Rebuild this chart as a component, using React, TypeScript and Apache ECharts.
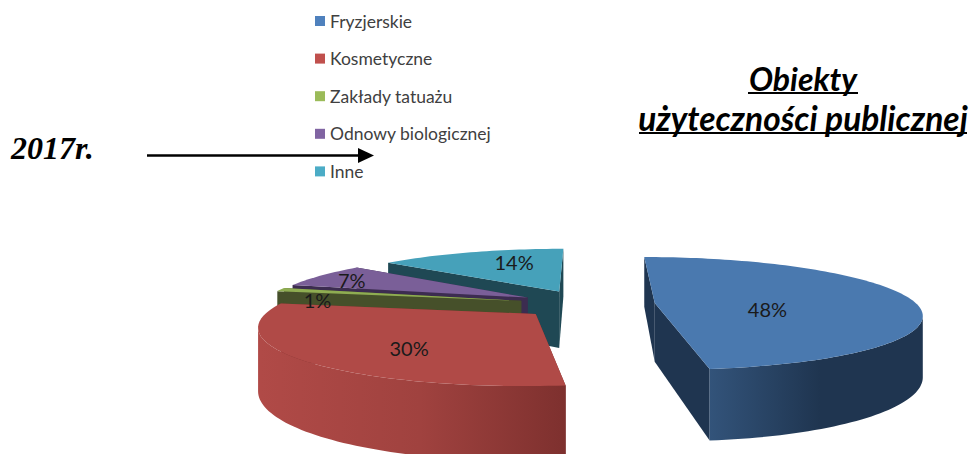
import React, { useEffect, useRef } from "react";
import * as echarts from "echarts";

const categories = ["Fryzjerskie", "Kosmetyczne", "Zakłady tatuażu", "Odnowy biologicznej", "Inne"];
const values = [48, 30, 1, 7, 14];

const legendColors = ["#4f81bd", "#c0504d", "#9bbb59", "#8064a2", "#4bacc6"];
const topColors = ["#4a79af", "#b04a47", "#8fad52", "#7a5f98", "#46a1ba"];
const faceColors = ["#1f3550", "#7d302e", "#46502a", "#3c2c50", "#1f4854"];
const wallStops = [
  ["#33547b", "#1f3550", "#1f3550"],
  ["#b04a47", "#a0423f", "#7d302e"],
  ["#5a6a33", "#46502a", "#46502a"],
  ["#4e3a68", "#3c2c50", "#3c2c50"],
  ["#2a6070", "#1f4854", "#1f4854"],
];
const wallRanges = [[707, 820, 924], [260, 420, 569], [270, 400, 530], [290, 410, 530], [380, 470, 565]];
const labelNudges = [[-42, 8], [6, 8], [-57, 6], [-48, -4], [11, -5]];

// Perspective model of the pie plane
const VX = 587, HZ = 5, KY = 1633, FX = 1430, DIST = 5.463, DEPTH = 0.197, EXPLODE = 0.26;
const rad = (d: number) => (d * Math.PI) / 180;
const total = values.reduce((a, b) => a + b, 0);
const starts: number[] = [];
values.reduce((acc, v, i) => { starts[i] = acc; return acc + v; }, 0);

function project(X: number, Y: number, low: boolean): number[] {
  const w = 1 / (DIST + Y);
  return [VX + FX * X * w, HZ + KY * (low ? 1 + DEPTH : 1) * w];
}
function sliceGeom(value: number, start: number) {
  const a0 = (start / total) * 360;
  const a1 = ((start + value) / total) * 360;
  const mid = (a0 + a1) / 2;
  const ox = EXPLODE * Math.sin(rad(mid));
  const oy = EXPLODE * Math.cos(rad(mid));
  return { a0, a1, mid, ox, oy };
}
const depthRank = values
  .map((v, i) => ({ i, y: Math.cos(rad(sliceGeom(v, starts[i]).mid)) }))
  .sort((a, b) => b.y - a.y)
  .map((d) => d.i);

function renderSlice(idx: number) {
  return (_p: any, api: any) => {
    const g = sliceGeom(api.value(0), api.value(1));
    const n = Math.max(4, Math.round((g.a1 - g.a0) / 1.5));
    const top: number[][] = [];
    const wallTop: number[][] = [];
    const wallBot: number[][] = [];
    let firstBot: number[] = [];
    let lastBot: number[] = [];
    for (let k = 0; k <= n; k++) {
      const t = rad(g.a0 + ((g.a1 - g.a0) * k) / n);
      const X = g.ox + Math.sin(t);
      const Y = g.oy + Math.cos(t);
      const pT = project(X, Y, false);
      const pB = project(X, Y, true);
      top.push(pT);
      if (k === 0) firstBot = pB;
      if (k === n) lastBot = pB;
      // only the part of the curved wall that faces the viewer is drawn
      if (-X * Math.sin(t) - (DIST + Y) * Math.cos(t) > 0) {
        wallTop.push(pT);
        wallBot.push(pB);
      }
    }
    const apexT = project(g.ox, g.oy, false);
    const apexB = project(g.ox, g.oy, true);
    const r = wallRanges[idx];
    const s = wallStops[idx];
    const grad = new echarts.graphic.LinearGradient(
      r[0], 0, r[2], 0,
      [
        { offset: 0, color: s[0] },
        { offset: (r[1] - r[0]) / (r[2] - r[0]), color: s[1] },
        { offset: 1, color: s[2] },
      ],
      true
    );
    const none = { stroke: "none" };
    const children: any[] = [
      { type: "polygon", shape: { points: [apexT, top[0], firstBot, apexB] }, style: { fill: faceColors[idx], ...none } },
      { type: "polygon", shape: { points: [apexT, top[n], lastBot, apexB] }, style: { fill: faceColors[idx], ...none } },
    ];
    if (wallTop.length > 1) {
      children.push({
        type: "polygon",
        shape: { points: [...wallTop, ...wallBot.slice().reverse()] },
        style: { fill: grad, ...none },
      });
    }
    children.push({ type: "polygon", shape: { points: [apexT, ...top] }, style: { fill: topColors[idx], ...none } });
    return { type: "group", children };
  };
}

function renderLabel(p: any, api: any) {
  const i = p.dataIndex;
  const g = sliceGeom(api.value(0), api.value(1));
  const pos = project(g.ox + 0.6 * Math.sin(rad(g.mid)), g.oy + 0.6 * Math.cos(rad(g.mid)), false);
  return {
    type: "text",
    style: {
      text: api.value(0) + "%",
      x: pos[0] + labelNudges[i][0],
      y: pos[1] + labelNudges[i][1],
      fill: "#1a1a1a",
      font: "20px Lato",
      textAlign: "center",
      textVerticalAlign: "middle",
    },
  };
}

export default function App() {
  const ref = useRef<HTMLDivElement>(null);
  useEffect(() => {
    document.body.style.margin = "0";
    const chart = echarts.init(ref.current!, undefined, { renderer: "svg" });
    chart.setOption({
      animation: false,
      backgroundColor: "#ffffff",
      legend: {
        data: categories,
        orient: "vertical",
        left: 310,
        top: 7,
        itemWidth: 10,
        itemHeight: 10,
        itemGap: 19.6,
        icon: "rect",
        textStyle: { fontFamily: "Lato", fontSize: 17.5, color: "#404040" },
        selectedMode: false,
      },
      series: [
        ...categories.map((name, i) => ({
          type: "custom",
          name,
          coordinateSystem: "none",
          silent: true,
          z: 2 + depthRank.indexOf(i),
          itemStyle: { color: legendColors[i] },
          data: [[values[i], starts[i]]],
          renderItem: renderSlice(i),
        })),
        {
          type: "custom",
          name: "etykiety",
          coordinateSystem: "none",
          silent: true,
          z: 20,
          data: values.map((v, i) => [v, starts[i]]),
          renderItem: renderLabel,
        },
      ],
      graphic: [
        { type: "text", style: { text: "2017r.", x: 11, y: 148, fill: "#000", font: "italic bold 32px 'Liberation Serif'", textVerticalAlign: "middle" } },
        { type: "line", shape: { x1: 147, y1: 155.5, x2: 360, y2: 155.5 }, style: { stroke: "#000", lineWidth: 2.5 } },
        { type: "polygon", shape: { points: [[358, 148], [374, 155.5], [358, 163]] }, style: { fill: "#000" } },
        { type: "text", style: { text: "Obiekty", x: 803, y: 78, fill: "#000", font: "italic bold 32px Lato", textAlign: "center", textVerticalAlign: "middle" } },
        { type: "line", shape: { x1: 748, y1: 93, x2: 858, y2: 93 }, style: { stroke: "#000", lineWidth: 2 } },
        { type: "text", style: { text: "użyteczności publicznej", x: 803, y: 118, fill: "#000", font: "italic bold 33.5px Lato", textAlign: "center", textVerticalAlign: "middle" } },
        { type: "line", shape: { x1: 639, y1: 133, x2: 967, y2: 133 }, style: { stroke: "#000", lineWidth: 2 } },
      ],
    });
    return () => chart.dispose();
  }, []);
  return <div ref={ref} style={{ width: 970, height: 454, overflow: "hidden" }} />;
}
